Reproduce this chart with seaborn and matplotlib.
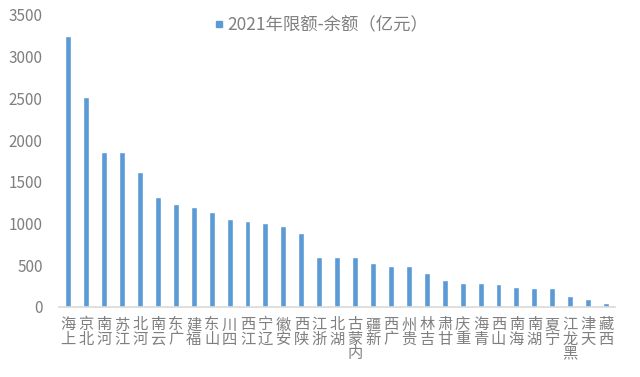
import matplotlib
matplotlib.use("Agg")
import matplotlib.pyplot as plt
from matplotlib.lines import Line2D
import seaborn as sns
import pandas as pd

provinces = ["上海", "北京", "河南", "江苏", "河北", "云南", "广东", "福建", "山东", "四川",
             "江西", "辽宁", "安徽", "陕西", "浙江", "湖北", "内蒙古", "新疆", "广西", "贵州",
             "吉林", "甘肃", "重庆", "青海", "山西", "海南", "湖南", "宁夏", "黑龙江", "天津", "西藏"]
values = [3252, 2513, 1860, 1860, 1613, 1313, 1229, 1196, 1140, 1056,
          1025, 1004, 972, 888, 596, 593, 593, 528, 488, 488,
          400, 320, 281, 281, 272, 240, 220, 220, 132, 92, 48]
series_name = "2021年限额-余额（亿元）"
yticks = [0, 500, 1000, 1500, 2000, 2500, 3000, 3500]
bar_color = "#5B9BD5"

sns.set_theme(style="white")
plt.rcParams['font.family'] = ['Noto Sans CJK SC', 'DejaVu Sans']

df = pd.DataFrame({"省份": provinces, series_name: values})

fig = plt.figure(figsize=(6.4, 3.77), dpi=100)
ax = fig.add_axes([59.3/640, 1-306.7/377, (615-59.3)/640, (306.7-15)/377])

sns.barplot(data=df, x="省份", y=series_name, color=bar_color, width=0.33,
            ax=ax, saturation=1)

ax.set_xlim(-0.5, len(provinces)-0.5)
ax.set_ylim(0, 3500)
ax.set_yticks(yticks)
ax.set_yticklabels([str(v) for v in yticks], fontsize=11, color="#7F7F7F")
ax.set_xticks(range(len(provinces)))
ax.set_xticklabels(["\n".join(reversed(p)) for p in provinces], fontsize=11, color="#7F7F7F")
for t in ax.get_xticklabels():
    t.set_linespacing(0.78)
ax.tick_params(axis='x', length=0, pad=7)
ax.tick_params(axis='y', length=0, pad=12)
ax.set_xlabel("")
ax.set_ylabel("")
for s in ["top", "right", "left"]:
    ax.spines[s].set_visible(False)
ax.spines["bottom"].set_color("#D9D9D9")
ax.spines["bottom"].set_linewidth(1.2)

handle = Line2D([], [], marker="s", linestyle="none", markersize=5,
                markerfacecolor=bar_color, markeredgecolor=bar_color)
leg = ax.legend([handle], [series_name], loc="upper center", bbox_to_anchor=(0.471, 1.025),
                frameon=False, fontsize=12.5, handlelength=0.6,
                handletextpad=0.15, borderaxespad=0.1)
for t in leg.get_texts():
    t.set_color("#7F7F7F")

fig.savefig("out.png", dpi=100)
